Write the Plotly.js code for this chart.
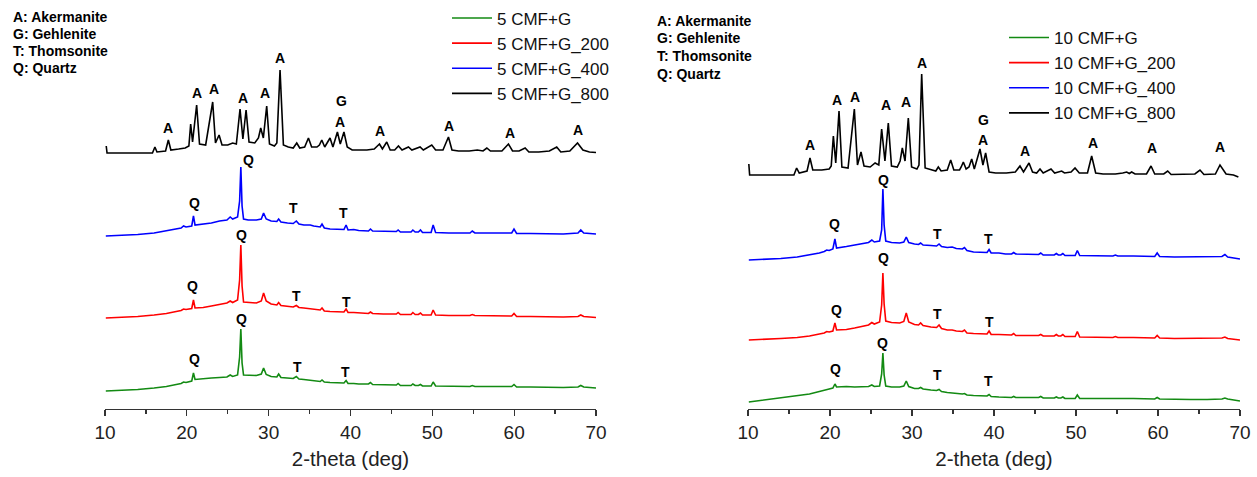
<!DOCTYPE html>
<html>
<head>
<meta charset="utf-8">
<script src="https://cdn.plot.ly/plotly-3.0.1.min.js"></script>
<style>html,body{margin:0;padding:0;background:#fff}#chart{width:1257px;height:477px}</style>
</head>
<body>
<div id="chart"></div>
<script>
// ---------- DATA ----------
// 2-theta grid for the left (5 CMF) green / red / blue patterns
const leftX = [10.1,12,14,16,17.5,18.7,19.3,19.6,19.9,20.6,20.81,21.0,22,23,24,24.9,25.3,25.6,26.2,26.45,
  26.6,26.75,26.93,27.5,28.5,29.1,29.38,29.7,30.3,31.0,31.22,31.5,32.3,33.0,33.38,33.7,34.3,35.09,35.5,36.3,
  36.52,36.8,37.5,38.5,39.2,39.46,39.7,40.4,41,42.2,42.44,42.7,44,45.6,45.82,46.1,47.4,47.62,47.9,48.3,
  48.55,48.8,49.85,50.1,50.4,52,54.6,54.88,55.2,57,59.7,59.98,60.3,62,64,66,67.8,68.14,68.5,70];
const left_5CMF_G = [0,0.5,1.5,3,4.5,6.5,7.5,9,8.5,10, 18,11.5,12.5,13,13.5,14,16,14.5,16,34,
  62,28,16,16,15.5,17,23,16.5,14.5,14, 17,13.5,13,12.5,14.5,12,11.5,11,10.5,9.5,
  11,9,8.5,8,8,10.5,7.5,7.5,7,7, 8.5,6.5,6,6,7.5,5.5,5.5,7,5.5,5.5,
  6.5,5,5,9,5,5,4.5,5.5,4.5,4.5, 4.5,6.5,4,4,3.5,3.5,4,5.5,4,3];
const left_5CMF_G_200 = [0,0.5,1.5,3,4.5,6.5,7.5,9,8.5,9.5, 18,10,10.5,12,13.5,15,17,15.5,18,38,
  73,32,16,15.5,15,17,25,17,14,13, 15.5,12.5,11.5,11,12.5,10.5,10,9.5,8.5,8,
  10,7,6.5,6,6,9,5.5,5.5,5,4.5, 6,4.5,4,4,5.5,3.5,3.5,5.5,3.5,3.5,
  5,3,3,8,3,2.5,2.5,3.5,2.5,2, 2,4.5,1.5,1.5,1,1,1.5,3,1.5,0.5];
const left_5CMF_G_400 = [0,0.5,1.5,3,5,7,8,10,9,10, 20,11,12,13,15,16,19,17,19,35,
  69,30,17,16,16,17,23,17,15,14.5, 17,14,13,12.5,15,12,11,11,10,9,
  12,8,7,6.5,6.5,11,6,6.5,5.5,5, 7,5,4.5,4.5,6,4,4,6,4,4,
  6,3.5,3.5,11,3.5,3,3,5,3,3, 3,7,2.5,2.5,2,2,3,6,3,2];
// 5 CMF+G_800 (own 2-theta grid)
const left800X = [10.15,10.25,15.8,16.1,16.35,17.4,17.74,18.05,19.0,19.8,
  20.25,20.47,20.7,21.2,21.55,22.3,23.16,23.5,23.94,24.3,
  25.0,25.6,26.05,26.5,26.85,27.24,27.6,28.3,28.75,29.03,
  29.35,29.76,30.1,30.7,31.0,31.39,31.8,32.4,33.0,33.43,
  33.8,34.4,34.86,35.25,35.9,36.2,36.49,36.85,37.5,37.85,
  38.4,38.75,39.2,39.6,40.2,41,42,42.9,43.54,43.9,
  44.43,44.85,45.4,45.86,46.3,47.08,47.5,48.5,48.9,49.93,
  50.4,51.3,51.97,52.4,53.2,54.5,55.5,56.2,56.66,57.1,
  58.5,59.3,59.8,60.6,61.34,61.8,63,64.3,65.2,65.7,
  66.8,67.74,68.4,69.2,70];
const left_5CMF_G_800 = [7,0,0,6,1,2,13,3,4,5,
  7,29,11,48,9,8,51,10,18,8,
  8,10,9,44,14,43,11,10,15,25,
  15,47,9,7,10,83,8,6,5,10,
  5,6,15,6,6,8,13,6,15,6,
  21,9,21,6,3,3,3,4,9,4,
  11,3,3,7,3,6,3,6,3,8,
  3,3,16,3,2,2,3,2,5,2,
  2,9,2,2,5,1,1,2,6,1,
  2,10,3,1,0.5];

// 2-theta grid for the right (10 CMF) green / red / blue patterns
const rightX = [10.1,12,14,16,17.5,18.7,19.3,19.6,19.9,20.35,20.6,20.8,22,23,24,24.7,25.1,25.4,26.05,26.3,
  26.45,26.6,26.8,27.5,28.5,29.0,29.3,29.6,30.3,30.8,31.05,31.35,32.3,33.0,33.3,33.6,34.3,34.9,35.4,36.15,
  36.4,36.7,37.5,38.5,39.15,39.4,39.65,40.6,41.4,42.15,42.4,42.65,44,45.45,45.7,46.0,47.35,47.6,47.85,48.15,
  48.4,48.65,49.9,50.16,50.45,52,54.5,54.8,55.1,57,59.6,59.9,60.2,62,64,66,67.8,68.16,68.5,70];
const right_10CMF_G = [0,2,4,6,8,10.5,12,13,13,14, 18,15,15.5,15,15.5,15.5,17,15.5,16,28,
  49,27,16,15,15,16,21,15.5,13.5,13.5, 14.5,13,12,11.5,12.5,10.5,9.5,9,8.5,8,
  8.5,7,6.5,6,6,7.5,5.5,5,4.5,4.5, 5.5,4.5,4.5,4.5,5.5,4,4,5,4,4,
  5,3.5,3.5,7,3.5,3.5,3.5,4,3.5,3.5, 3,4.5,3,2.5,2.5,2.5,3,4,3,1];
const right_10CMF_G_200 = [0,0.5,1.5,2.5,4,6,7,8.5,8,9, 17,10,10.5,12,13.5,15,17.5,16,18,35,
  67,36,19,17.5,17,18.5,27,18,15.5,15, 17,14.5,13,12.5,15,11.5,10,10,9,8.5,
  10,7,6.5,6,6,9,5.5,5.5,5,5, 6.5,4.5,4.5,4.5,5.5,4,4,5.5,4,4,
  5.5,3.5,3.5,8.5,3,3,2.5,3.5,2.5,2.5, 2,4.5,2,1.5,1.5,1.5,2,3,1.5,0];
const right_10CMF_G_400 = [0,0.5,1.5,3,5,7,8.5,10,9.5,11, 21,12,13.5,15,16.5,17.5,20,18,19,30,
  71,35,19,17.5,17,18,23,17.5,16,15.5, 17,15,14.5,14,16,13.5,12.5,13,11.5,11,
  12.5,9.5,8,7.5,7.5,10.5,7,7,6,6, 7.5,6,5.5,5.5,7,5,5,6.5,5,5,
  6.5,4.5,4.5,9.5,4.5,4.5,4,5,4,4, 3.5,7,3.5,3,3,3,3.5,5.5,3,1];
// 10 CMF+G_800 (own 2-theta grid)
const right800X = [10.1,10.2,15.6,15.93,16.25,17.2,17.56,17.9,19.0,19.9,
  20.15,20.41,20.7,21.1,21.45,22.2,22.97,23.35,23.78,24.15,
  24.9,25.5,25.95,26.3,26.7,27.11,27.5,28.2,28.55,28.82,
  29.15,29.55,29.95,30.6,30.85,31.18,31.6,32.3,32.9,33.21,
  33.55,34.3,34.72,35.1,35.8,36.0,36.26,36.6,36.95,37.28,
  37.6,38.29,38.65,38.98,39.4,40.2,41.5,42.6,43.17,43.6,
  44.27,44.7,45.2,45.61,46.0,46.95,47.4,48.25,48.6,49.4,
  49.88,50.4,51.4,51.91,52.4,53.3,54.8,55.7,56.18,56.5,
  56.79,57.2,58.6,59.15,59.6,60.7,61.18,61.6,63,64.5,
  65.12,65.6,67.0,67.56,68.3,69.2,69.8];
const right_10CMF_G_800 = [11,0,0,7,2,4,17,5,5,6,
  9,39,12,64,8,7,66,10,23,9,
  8,12,10,46,14,52,9,8,14,27,
  14,57,8,6,10,101,7,5,4,8,
  4,5,15,5,5,8,13,6,8,16,
  6,26,10,22,3,2,2,3,9,3,
  12,3,2,6,2,6,2,4,2,3,
  7,2,2,19,2,1,1,2,3,1.5,
  3,1,1,9,1,1,4,0.5,0.5,1,
  5,0.5,1,10,1,0,-2];

const xTicks = [10,20,30,40,50,60,70];
const phaseKey = ['A: Akermanite','G: Gehlenite','T: Thomsonite','Q: Quartz'];

// phase marks: [letter, 2-theta, height on stacked scale]
const leftMarks = [
  ['A',17.75,281],['A',21.2,316],['A',23.34,320],['A',26.85,311],['A',29.54,316],['A',31.42,351],
  ['G',38.85,308],['A',38.68,287],['A',43.66,278],['A',52.02,283],['A',59.45,276],['A',67.81,279],
  ['Q',20.9,206],['Q',27.5,249],['T',33.05,201],['T',39.17,196],
  ['Q',20.73,123],['Q',26.73,174],['T',33.46,113],['T',39.46,107],
  ['Q',20.9,50],['Q',26.73,90],['T',33.54,42],['T',39.38,37]];
const rightMarks = [
  ['A',17.6,264],['A',20.86,309],['A',23.1,312],['A',26.78,304],['A',29.3,307],['A',31.27,346],
  ['G',38.7,289],['A',38.6,269],['A',43.8,258],['A',52.1,266],['A',59.3,261],['A',67.6,262],
  ['Q',20.53,185],['Q',26.49,229],['T',33.06,175],['T',39.27,170],
  ['Q',20.8,99],['Q',26.57,151],['T',33.06,95],['T',39.4,87],
  ['Q',20.7,40],['Q',26.37,66],['T',33.06,34],['T',39.27,28]];

// ---------- STACKING OFFSETS (layout) ----------
const OFF = {l:{g:18,r:91,b:173,k:256}, r:{g:7,r:69,b:149,k:234}};
const COL = {g:'#138a13', r:'#ff0000', b:'#0000ff', k:'#000000'};
const FONT = 'Liberation Sans, Arial, Helvetica, sans-serif';

function tr(name, xs, ys, off, color, xa, ya, leg){
  return {type:'scatter', mode:'lines', name:name, x:xs, y:ys.map(v=>v+off),
    xaxis:xa, yaxis:ya, legend:leg, line:{color:color, width:1.6}, hoverinfo:'x+name'};
}
const data = [
  tr('5 CMF+G', leftX, left_5CMF_G, OFF.l.g, COL.g, 'x','y','legend'),
  tr('5 CMF+G_200', leftX, left_5CMF_G_200, OFF.l.r, COL.r, 'x','y','legend'),
  tr('5 CMF+G_400', leftX, left_5CMF_G_400, OFF.l.b, COL.b, 'x','y','legend'),
  tr('5 CMF+G_800', left800X, left_5CMF_G_800, OFF.l.k, COL.k, 'x','y','legend'),
  tr('10 CMF+G', rightX, right_10CMF_G, OFF.r.g, COL.g, 'x2','y2','legend2'),
  tr('10 CMF+G_200', rightX, right_10CMF_G_200, OFF.r.r, COL.r, 'x2','y2','legend2'),
  tr('10 CMF+G_400', rightX, right_10CMF_G_400, OFF.r.b, COL.b, 'x2','y2','legend2'),
  tr('10 CMF+G_800', right800X, right_10CMF_G_800, OFF.r.k, COL.k, 'x2','y2','legend2')
];

const W = 1257, PH = 409;
function mk(m, xr, yr){
  return {text:'<b>'+m[0]+'</b>', x:m[1], y:m[2], xref:xr, yref:yr, showarrow:false,
    xanchor:'center', yanchor:'middle', font:{family:FONT, size:14, color:'#000'}};
}
const annotations = []
  .concat(leftMarks.map(m=>mk(m,'x','y')))
  .concat(rightMarks.map(m=>mk(m,'x2','y2')));
// phase key lines (pixel rows from the top of the figure)
const keyRowsL = [16.7, 33.5, 50.7, 67.7];
const keyRowsR = [20.7, 38.3, 56, 74];
phaseKey.forEach((s,i)=>{
  annotations.push({text:'<b>'+s+'</b>', xref:'paper', yref:'paper', x:11/W, y:1-keyRowsL[i]/PH,
    xanchor:'left', yanchor:'middle', showarrow:false, font:{family:FONT, size:14, color:'#000'}});
  annotations.push({text:'<b>'+s+'</b>', xref:'paper', yref:'paper', x:655/W, y:1-keyRowsR[i]/PH,
    xanchor:'left', yanchor:'middle', showarrow:false, font:{family:FONT, size:14, color:'#000'}});
});

function xax(dom, anchor){
  return {domain:dom, anchor:anchor, range:[10,70], showgrid:false, zeroline:false,
    showline:true, linecolor:'#333', linewidth:1.2, ticks:'outside', ticklen:6, tickwidth:1.2,
    tickcolor:'#333', tickvals:xTicks, tickfont:{family:FONT, size:19, color:'#222'},
    minor:{dtick:5, tick0:5, ticks:'outside', ticklen:3.5, tickwidth:1.2, tickcolor:'#333'},
    title:{text:'2-theta (deg)', font:{family:FONT, size:20.5, color:'#222'}, standoff:9},
    fixedrange:true};
}
function yax(anchor){
  return {domain:[0,1], anchor:anchor, range:[0,PH], visible:false, showgrid:false,
    zeroline:false, fixedrange:true};
}
const legBase = {xanchor:'left', yanchor:'top', bgcolor:'rgba(0,0,0,0)', borderwidth:0,
  font:{family:FONT, size:17, color:'#111'}, itemwidth:40, traceorder:'normal'};
const layout = {
  width:W, height:477, margin:{l:0, r:0, t:0, b:477-PH, pad:0},
  paper_bgcolor:'#fff', plot_bgcolor:'#fff',
  font:{family:FONT},
  xaxis: xax([105/W, 596/W], 'y'),
  yaxis: yax('x'),
  xaxis2: xax([748/W, 1240/W], 'y2'),
  yaxis2: yax('x2'),
  legend: Object.assign({}, legBase, {x:447/W, y:1-0.5/PH}),
  legend2: Object.assign({}, legBase, {x:1004/W, y:1-20/PH}),
  annotations: annotations,
  showlegend:true
};
Plotly.newPlot('chart', data, layout, {staticPlot:true, displayModeBar:false});
</script>
</body>
</html>
